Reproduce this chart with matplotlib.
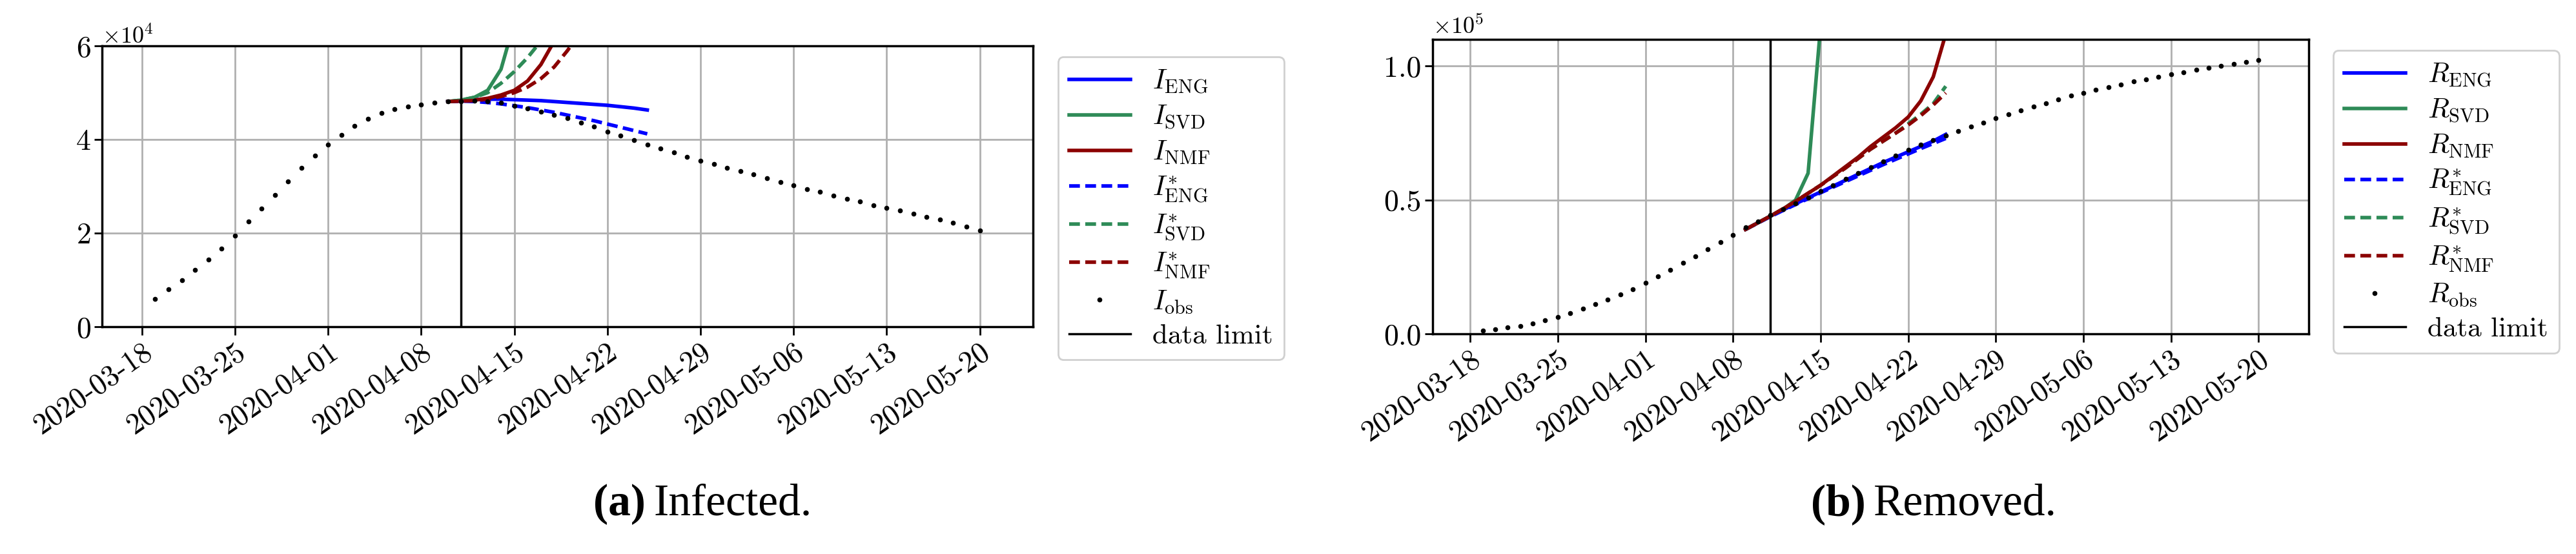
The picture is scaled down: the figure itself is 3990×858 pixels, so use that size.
import matplotlib
matplotlib.use("Agg")
import matplotlib.pyplot as plt
import matplotlib.dates as mdates
import numpy as np
import pandas as pd

plt.rcParams['font.family'] = 'serif'
plt.rcParams['font.serif'] = ['cmr10', 'DejaVu Serif']
plt.rcParams['mathtext.fontset'] = 'cm'
plt.rcParams['axes.formatter.use_mathtext'] = True
plt.rcParams['axes.unicode_minus'] = False

obs_dates = pd.date_range('2020-03-19', '2020-05-20')
I_obs = [0.6, 0.8, 1.0, 1.22, 1.44, 1.67, 1.95, 2.25, 2.53, 2.82, 3.1, 3.39, 3.65, 3.89, 4.09, 4.29,
         4.44, 4.57, 4.65, 4.70, 4.75, 4.78, 4.81, 4.82, 4.83, 4.81, 4.78, 4.72, 4.66, 4.59, 4.52, 4.45,
         4.36, 4.27, 4.17, 4.08, 3.98, 3.89, 3.81, 3.72, 3.63, 3.55, 3.47, 3.40, 3.32, 3.25, 3.17, 3.09,
         3.02, 2.94, 2.88, 2.80, 2.73, 2.67, 2.60, 2.54, 2.48, 2.41, 2.35, 2.29, 2.22, 2.14, 2.06]
R_obs = [0.011, 0.016, 0.023, 0.030, 0.039, 0.050, 0.063, 0.078, 0.093, 0.110, 0.128, 0.147, 0.167, 0.19,
         0.215, 0.24, 0.265, 0.29, 0.315, 0.342, 0.37, 0.398, 0.42, 0.444, 0.466, 0.488, 0.51, 0.532,
         0.556, 0.579, 0.601, 0.623, 0.645, 0.666, 0.687, 0.706, 0.724, 0.741, 0.758, 0.774, 0.79, 0.805,
         0.82, 0.834, 0.848, 0.862, 0.876, 0.889, 0.90, 0.911, 0.922, 0.932, 0.942, 0.951, 0.961, 0.97,
         0.978, 0.986, 0.994, 1.001, 1.008, 1.016, 1.023]

I_pred_dates = pd.date_range('2020-04-10', '2020-04-25')
I_ENG = [4.81, 4.83, 4.85, 4.86, 4.86, 4.85, 4.84, 4.83, 4.81, 4.79, 4.77, 4.75, 4.73, 4.70, 4.67, 4.63]
I_ENG_s = [4.81, 4.82, 4.81, 4.79, 4.76, 4.72, 4.68, 4.63, 4.58, 4.52, 4.46, 4.40, 4.33, 4.26, 4.19, 4.12]
I_SVD = [4.81, 4.84, 4.90, 5.05, 5.5, 6.5]
I_SVD_s = [4.81, 4.84, 4.90, 5.0, 5.2, 5.45, 5.75, 6.1]
I_NMF = [4.81, 4.82, 4.84, 4.88, 4.95, 5.05, 5.25, 5.6, 6.1]
I_NMF_s = [4.81, 4.82, 4.83, 4.86, 4.92, 5.0, 5.12, 5.3, 5.55, 5.9, 6.3]

R_pred_dates = pd.date_range('2020-04-09', '2020-04-25')
R_ENG = [0.39, 0.415, 0.44, 0.463, 0.486, 0.508, 0.53, 0.552, 0.574, 0.596, 0.618, 0.64, 0.66, 0.68, 0.70, 0.72, 0.745]
R_ENG_s = [0.39, 0.414, 0.438, 0.461, 0.483, 0.505, 0.527, 0.548, 0.569, 0.590, 0.611, 0.632, 0.652, 0.672, 0.692, 0.711, 0.73]
R_SVD = [0.39, 0.415, 0.44, 0.465, 0.50, 0.60, 1.15]
R_SVD_s = [0.39, 0.415, 0.44, 0.467, 0.495, 0.525, 0.555, 0.588, 0.62, 0.655, 0.69, 0.72, 0.75, 0.785, 0.82, 0.86, 0.925]
R_NMF = [0.39, 0.415, 0.44, 0.467, 0.495, 0.525, 0.555, 0.59, 0.625, 0.66, 0.70, 0.735, 0.77, 0.81, 0.87, 0.96, 1.12]
R_NMF_s = [0.39, 0.415, 0.44, 0.467, 0.495, 0.525, 0.555, 0.588, 0.62, 0.655, 0.69, 0.72, 0.75, 0.78, 0.815, 0.855, 0.90]

data_limit = pd.Timestamp('2020-04-11')
tick_dates = pd.date_range('2020-03-18', '2020-05-20', freq='7D')

BLUE, GREEN, RED = '#0000ff', '#2e8b57', '#8b0000'

fig = plt.figure(figsize=(39.9, 8.58), dpi=100)
axI = fig.add_axes([158/3990, 1-506/858, (1600-158)/3990, (506-71)/858])
axR = fig.add_axes([2219/3990, 1-517/858, (3576-2219)/3990, (517-61)/858])

def setup(ax, sym, scale, dates_list, series, obs, ylim, yticks):
    names = ['ENG', 'SVD', 'NMF']
    cols = [BLUE, GREEN, RED]
    for i, (n, c) in enumerate(zip(names, cols)):
        d, v = dates_list[i], series[i]
        ax.plot(d[:len(v)], np.array(v) * scale, color=c, lw=4, label=r'$%s_{\mathrm{%s}}$' % (sym, n))
    for i, (n, c) in enumerate(zip(names, cols)):
        d, v = dates_list[i], series[3 + i]
        ax.plot(d[:len(v)], np.array(v) * scale, color=c, lw=4, ls='--', dashes=(3, 1.5),
                label=r'$%s^{*}_{\mathrm{%s}}$' % (sym, n))
    ax.plot(obs_dates, np.array(obs) * scale, 'k.', ms=9, ls='none', label=r'$%s_{\mathrm{obs}}$' % sym)
    ax.axvline(data_limit, color='k', lw=2.5, label='data limit')
    ax.set_xlim(pd.Timestamp('2020-03-15'), pd.Timestamp('2020-05-24'))
    ax.set_ylim(*ylim)
    ax.set_yticks(np.array(yticks) * scale)
    ax.set_xticks(tick_dates)
    ax.xaxis.set_major_formatter(mdates.DateFormatter('%Y-%m-%d'))
    plt.setp(ax.get_xticklabels(), rotation=35, ha='right', rotation_mode='anchor')
    ax.tick_params(labelsize=33, width=2, length=9)
    ax.grid(True, color='#b0b0b0', lw=2)
    ax.set_axisbelow(True)
    for s in ax.spines.values():
        s.set_linewidth(2.5)
    ax.ticklabel_format(axis='y', style='sci', scilimits=(0, 0), useMathText=True)
    ax.yaxis.get_offset_text().set_fontsize(26)
    leg = ax.legend(loc='upper left', bbox_to_anchor=(1.012, 1.01), fontsize=31, handlelength=2.2,
                    borderpad=0.4, labelspacing=0.3, framealpha=1, edgecolor='#d0d0d0', fancybox=True)
    leg.get_frame().set_linewidth(2)

pd_I = [I_pred_dates] * 3
setup(axI, 'I', 1e4, pd_I, [I_ENG, I_SVD, I_NMF, I_ENG_s, I_SVD_s, I_NMF_s], I_obs, (0, 6e4), [0, 2, 4, 6])
pd_R = [R_pred_dates] * 3
setup(axR, 'R', 1e5, pd_R, [R_ENG, R_SVD, R_NMF, R_ENG_s, R_SVD_s, R_NMF_s], R_obs, (0, 1.1e5), [0, 0.5, 1.0])
axR.yaxis.set_major_formatter(matplotlib.ticker.FuncFormatter(lambda v, p: '%.1f' % (v / 1e5)))
axR.text(0.0, 1.005, r'$\times 10^{5}$', transform=axR.transAxes, fontsize=26, va='bottom')

cap_y = 1 - 781/858
fig.text(1000/3990, cap_y, '(a)', fontsize=50, fontweight='bold', family='Liberation Serif', ha='right', va='center')
fig.text(1012/3990, cap_y, 'Infected.', fontsize=50, family='Liberation Serif', ha='left', va='center')
fig.text(2890/3990, cap_y, '(b)', fontsize=50, fontweight='bold', family='Liberation Serif', ha='right', va='center')
fig.text(2902/3990, cap_y, 'Removed.', fontsize=50, family='Liberation Serif', ha='left', va='center')

fig.savefig('out.png', dpi=100)
